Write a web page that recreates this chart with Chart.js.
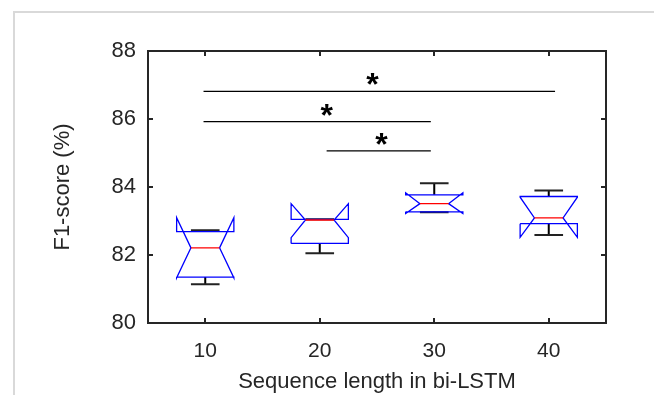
<!DOCTYPE html>
<html>
<head>
<meta charset="utf-8">
<script src="https://cdn.jsdelivr.net/npm/chart.js@4/dist/chart.umd.min.js"></script>
<style>
  html, body { margin: 0; padding: 0; background: #fff; }
  #wrap { position: relative; width: 654px; height: 395px; overflow: hidden; }
  #frame { position: absolute; left: 13px; top: 11px; right: -4px; bottom: -4px;
           border-left: 2px solid #d9d9d9; border-top: 2px solid #d9d9d9; }
  canvas { position: absolute; left: 0; top: 0; }
</style>
</head>
<body>
<div id="wrap">
  <div id="frame"></div>
  <canvas id="chart" width="654" height="395"></canvas>
</div>
<script>
// Box statistics (F1-score, %)
const seqLengths = [10, 20, 30, 40];
const whiskerLo = [81.14, 82.05, 83.26, 82.59];
const q1 = [81.35, 82.34, 83.27, 82.92];
const notchLo = [81.33, 82.51, 83.22, 82.52];
const median = [82.21, 83.03, 83.51, 83.09];
const notchHi = [83.10, 83.51, 83.83, 83.70];
const q3 = [82.69, 83.05, 83.77, 83.72];
const whiskerHi = [82.73, 83.05, 84.11, 83.90];

// significance brackets
const sigFrom = [9.85, 9.85, 20.6];
const sigTo = [40.55, 29.7, 29.7];
const sigY = [86.81, 85.92, 85.06];
const starX = [24.6, 20.6, 25.4];

const yTicks = [80, 82, 84, 86, 88];

const axisColor = '#262626';
const fontFamily = '"Liberation Sans", Arial, Helvetica, sans-serif';

// widths in x units
const boxHalf = 2.5;
const notchHalf = 1.25;
const capHalf = 1.25;

const gap = (x) => ({ x, y: null });

const boxData = [];
const medianData = [];
const whiskerData = [];
const capData = [];
seqLengths.forEach((x, i) => {
  const l = x - boxHalf;
  const r = x + boxHalf;
  boxData.push(
    { x: l, y: q1[i] }, { x: l, y: notchLo[i] }, { x: x - notchHalf, y: median[i] },
    { x: l, y: notchHi[i] }, { x: l, y: q3[i] }, { x: r, y: q3[i] },
    { x: r, y: notchHi[i] }, { x: x + notchHalf, y: median[i] }, { x: r, y: notchLo[i] },
    { x: r, y: q1[i] }, { x: l, y: q1[i] }, gap(x)
  );
  medianData.push({ x: x - notchHalf, y: median[i] }, { x: x + notchHalf, y: median[i] }, gap(x));
  whiskerData.push(
    { x, y: q3[i] }, { x, y: whiskerHi[i] }, gap(x),
    { x, y: q1[i] }, { x, y: whiskerLo[i] }, gap(x)
  );
  capData.push(
    { x: x - capHalf, y: whiskerHi[i] }, { x: x + capHalf, y: whiskerHi[i] }, gap(x),
    { x: x - capHalf, y: whiskerLo[i] }, { x: x + capHalf, y: whiskerLo[i] }, gap(x)
  );
});

const sigData = [];
sigY.forEach((v, i) => {
  sigData.push({ x: sigFrom[i], y: v }, { x: sigTo[i], y: v }, gap(sigTo[i]));
});

const lineSet = (data, color, width, order) => ({
  data,
  showLine: true,
  borderColor: color,
  borderWidth: width,
  pointRadius: 0,
  spanGaps: false,
  fill: false,
  tension: 0,
  borderJoinStyle: 'miter',
  order,
});

// frame with inward ticks (MATLAB style) plus the significance stars
const frameTicks = {
  id: 'frameTicks',
  afterDraw(chart) {
    const { ctx, chartArea: a, scales: { x, y } } = chart;
    ctx.save();
    ctx.strokeStyle = axisColor;
    ctx.lineWidth = 2;
    ctx.strokeRect(a.left, a.top, a.right - a.left, a.bottom - a.top);
    ctx.beginPath();
    x.ticks.forEach((t) => {
      const px = Math.round(x.getPixelForValue(t.value));
      ctx.moveTo(px, a.bottom); ctx.lineTo(px, a.bottom - 5);
      ctx.moveTo(px, a.top); ctx.lineTo(px, a.top + 5);
    });
    y.ticks.forEach((t) => {
      const py = Math.round(y.getPixelForValue(t.value));
      ctx.moveTo(a.left, py); ctx.lineTo(a.left + 5, py);
      ctx.moveTo(a.right, py); ctx.lineTo(a.right - 5, py);
    });
    ctx.stroke();

    ctx.fillStyle = '#000';
    ctx.font = 'bold 32px ' + fontFamily;
    ctx.textAlign = 'center';
    ctx.textBaseline = 'alphabetic';
    starX.forEach((sx, i) => {
      ctx.fillText('*', x.getPixelForValue(sx), y.getPixelForValue(sigY[i]) + 4);
    });
    ctx.restore();
  },
};

new Chart(document.getElementById('chart'), {
  type: 'scatter',
  data: {
    datasets: [
      lineSet(medianData, '#ff0000', 1.3, 1),
      lineSet(boxData, '#0000ff', 1.3, 2),
      lineSet(capData, '#222222', 2, 3),
      lineSet(whiskerData, '#000000', 2, 4),
      lineSet(sigData, '#000000', 1.3, 5),
    ],
  },
  options: {
    responsive: false,
    animation: false,
    events: [],
    layout: { padding: { top: 51, right: 48, bottom: 0, left: 0 } },
    scales: {
      x: {
        type: 'linear',
        min: 5,
        max: 45,
        afterBuildTicks: (scale) => { scale.ticks = seqLengths.map((v) => ({ value: v })); },
        afterFit: (scale) => { scale.height = 72; },
        grid: { display: false, drawTicks: false },
        border: { display: false },
        ticks: { color: axisColor, padding: 16, font: { family: fontFamily, size: 21 } },
        title: {
          display: true,
          text: 'Sequence length in bi-LSTM',
          color: axisColor,
          font: { family: fontFamily, size: 22 },
          padding: { top: 0, bottom: 0 },
        },
      },
      y: {
        min: 80,
        max: 88,
        afterBuildTicks: (scale) => { scale.ticks = yTicks.map((v) => ({ value: v })); },
        afterFit: (scale) => { scale.width = 148; },
        grid: { display: false, drawTicks: false },
        border: { display: false },
        ticks: { color: axisColor, padding: 12, font: { family: fontFamily, size: 22 } },
        title: {
          display: true,
          text: 'F1-score (%)',
          color: axisColor,
          font: { family: fontFamily, size: 22 },
          padding: { top: 50, bottom: 0 },
        },
      },
    },
    plugins: {
      legend: { display: false },
      tooltip: { enabled: false },
    },
  },
  plugins: [frameTicks],
});
</script>
</body>
</html>
